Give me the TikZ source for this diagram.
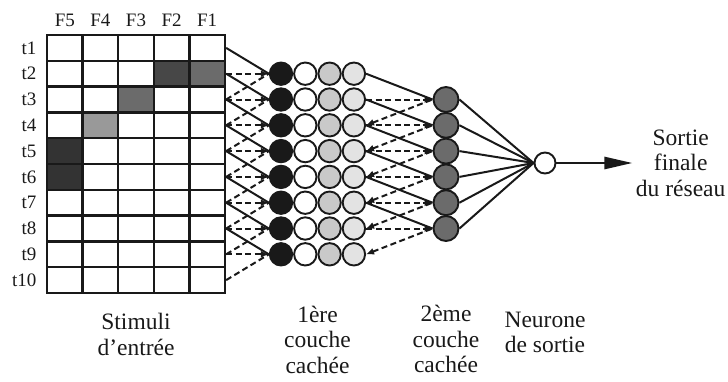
\documentclass[tikz,border=0pt]{standalone}
\usepackage{fontspec}
\setmainfont{Liberation Serif}
\usetikzlibrary{positioning,arrows.meta}

\definecolor{trait}{gray}{0.1}
\definecolor{gris1}{gray}{0.2}
\definecolor{gris2}{gray}{0.28}
\definecolor{gris3}{gray}{0.42}
\definecolor{gris4}{gray}{0.6}
\definecolor{gris5}{gray}{0.79}
\definecolor{gris6}{gray}{0.89}

\tikzset{
    >={Latex[length=8pt,width=7pt]},
    cellule/.style={draw=trait, line width=2.3pt, fill=white, minimum width=35.6pt, minimum height=25.8pt, inner sep=0pt},
    neurone/.style={draw=trait, line width=1.9pt, circle, minimum size=22.4pt, inner sep=0pt},
    lien/.style={draw=trait, line width=2pt},
    lienp/.style={lien, dash pattern=on 6pt off 3.5pt},
    petit/.style={font=\fontsize{19}{21}\selectfont, text=trait},
    texte/.style={font=\fontsize{23.5}{25.5}\selectfont, text=trait, align=center},
    % cases grisées de la grille
    g2-4/.style={fill=gris2},
    g2-5/.style={fill=gris3},
    g3-3/.style={fill=gris3},
    g4-2/.style={fill=gris4},
    g5-1/.style={fill=gris1},
    g6-1/.style={fill=gris1}
}

\begin{document}
\begin{tikzpicture}[x=1pt, y=-1pt]
        \useasboundingbox (0,0) rectangle (728,381);
        % Grille des stimuli
        \foreach \r in {1,...,10}
            \foreach \k in {1,...,5}
                \node[cellule, g\r-\k/.try] (c\r-\k) at ({47+(\k-0.5)*35.6}, {35+(\r-0.5)*25.8}) {};
        % Étiquettes des colonnes et des lignes
        \foreach \k/\f in {1/5,2/4,3/3,4/2,5/1}
            \node[petit, above=4pt of c1-\k] (f\f) {F\f};
        \foreach \r in {1,...,10}
            \node[petit, left=6pt of c\r-1] (t\r) {t\r};
        % Première couche cachée
        \foreach \r in {2,...,9} {
            \node[neurone, fill=trait] (n\r-1) at (281, {35+(\r-0.5)*25.8}) {};
            \node[neurone, fill=white, right=0pt of n\r-1] (n\r-2) {};
            \node[neurone, fill=gris5, right=0pt of n\r-2] (n\r-3) {};
            \node[neurone, fill=gris6, right=0pt of n\r-3] (n\r-4) {};
        }
        % Deuxième couche cachée
        \foreach \r in {3,...,8}
            \node[neurone, minimum size=25pt, fill=gris3] (m\r) at (446, {35+(\r-0.5)*25.8}) {};
        % Neurone de sortie
        \node[neurone, minimum size=21pt, fill=white] (s) at (545, 163) {};
        \coordinate[right=76pt of s] (fin);
        % Connexions grille -> 1ère couche
        \foreach \r in {2,...,9} {
            \pgfmathtruncatemacro{\haut}{\r-1}
            \pgfmathtruncatemacro{\bas}{\r+1}
            \draw[lien] (c\haut-5.east) -- (n\r-1.west);
            \draw[lienp, ->] (c\r-5.east) -- (n\r-1.west);
            \draw[lienp] (c\bas-5.east) -- (n\r-1.west);
        }
        % Connexions 1ère -> 2ème couche
        \foreach \r in {3,...,8} {
            \pgfmathtruncatemacro{\haut}{\r-1}
            \pgfmathtruncatemacro{\bas}{\r+1}
            \draw[lien] (n\haut-4.east) -- (m\r.west);
            \draw[lienp, ->] (n\r-4.east) -- (m\r.west);
            \draw[lienp, <-] (n\bas-4.east) -- (m\r.west);
        }
        % Connexions 2ème couche -> sortie
        \foreach \r in {3,...,8}
            \draw[lien] (m\r.east) -- (s.west);
        \draw[trait, line width=2.6pt, -{Triangle[length=28pt,width=12pt]}] (s.east) -- (fin);
        % Textes
        \node[texte, right=0pt of fin] (reseau) {Sortie\\finale\\du réseau};
        \node[texte, below=16pt of c10-3] (stimuli) {Stimuli\\d'entrée};
        \node[texte, below=36pt of n9-2, xshift=12.2pt] (couche1) {1ère\\couche\\cachée};
        \node[texte, below=60pt of m8] (couche2) {2ème\\couche\\cachée};
        \node[texte, below=134pt of s] (neur) {Neurone\\de sortie};
\end{tikzpicture}
\end{document}
